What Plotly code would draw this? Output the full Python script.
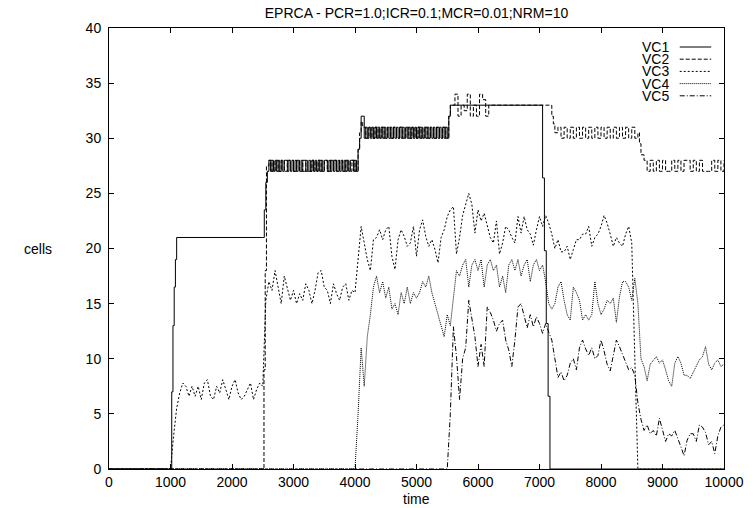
import plotly.graph_objects as go

# ---------------- data ----------------
title_text = "EPRCA - PCR=1.0;ICR=0.1;MCR=0.01;NRM=10"
series_names = ["VC1", "VC2", "VC3", "VC4", "VC5"]
x_ticks = [0, 1000, 2000, 3000, 4000, 5000, 6000, 7000, 8000, 9000, 10000]
x_tick_labels = ["0", "1000", "2000", "3000", "4000", "5000", "6000", "7000",
                 "8000", "9000", "10000"]
y_ticks = [0, 5, 10, 15, 20, 25, 30, 35, 40]
y_tick_labels = ["0", "5", "10", "15", "20", "25", "30", "35", "40"]

vc1_time = ([0, 1000, 1020, 1040, 1060, 1080, 1100, 2500, 2525, 2550]
            + list(range(2575, 4026, 25))
            + [4050, 4075, 4100] + list(range(4150, 5501, 25))
            + [5525, 5550, 7020, 7050, 7080, 7110, 7140, 7170, 10000])
vc1_cells = ([0, 0, 7, 13, 16.5, 19, 21, 21, 23.5, 26]
             + [27, 28, 27, 28, 27, 28, 27, 28, 27, 28,
                27, 28, 28, 27, 28, 27, 28, 27, 28, 27,
                28, 27, 28, 27, 27, 28, 27, 28, 27, 28,
                27, 28, 27, 28, 27, 28, 27, 28, 28, 27,
                28, 27, 28, 27, 28, 27, 28, 27, 28, 27,
                28, 27, 28, 27, 28, 28, 27, 28, 27]
             + [29, 30, 32]
             + [30, 31, 30, 31, 30, 31, 30, 31, 30, 31,
                30, 31, 30, 31, 30, 31, 30, 31, 30, 31,
                30, 31, 30, 31, 30, 31, 30, 31, 30, 31,
                30, 31, 30, 31, 30, 31, 30, 31, 30, 31,
                30, 31, 30, 31, 30, 31, 30, 31, 30, 31,
                30, 31, 30, 31, 30]
             + [32, 33, 33, 26.4, 19.8, 13.2, 6.6, 0, 0])

vc2_time = ([0, 2500, 2520, 2540, 2560] + list(range(2600, 4001, 50))
            + [4050, 4075, 4100] + list(range(4125, 5476, 50))
            + [5525, 5550] + list(range(5575, 6126, 50))
            + [6175, 7170, 7200, 7225, 7250] + list(range(7300, 8551, 50))
            + [8600, 8625, 8650] + list(range(8700, 10001, 50)))
vc2_cells = ([0, 0, 9, 18, 27.5]
             + [28, 27, 28, 27, 28, 27, 28, 28, 27, 28,
                27, 28, 27, 27, 28, 27, 28, 27, 28, 27,
                28, 28, 27, 28, 27, 28, 27, 28, 27]
             + [29, 30.5, 31.5]
             + [31, 30, 31, 30, 31, 30, 31, 30, 31, 30,
                31, 30, 31, 30, 31, 30, 31, 30, 31, 30,
                31, 30, 31, 30, 31, 30, 31, 30]
             + [32, 33]
             + [33, 34, 32, 33, 32.5, 34, 32, 33, 32, 34, 33.5, 32]
             + [33, 33, 32, 31.3, 30.5]
             + [31, 30, 31, 30, 31, 30, 31, 30, 31, 30,
                31, 30, 31, 30, 31, 30, 31, 30, 31, 30,
                31, 30, 31, 30, 31, 30]
             + [30.5, 29.5, 28.5]
             + [28, 27, 28, 27, 28, 27, 28, 27, 27, 28,
                27, 28, 27, 28, 28, 27, 28, 27, 28, 27,
                27, 27, 28, 27, 28, 27, 28])

vc3_time = [0] + list(range(1000, 8551, 50)) + [8600, 10000]
vc3_cells = ([0]
             + [0, 3, 5.5, 6.9, 7.8, 7.5, 6.6, 7.5, 6.6, 7.5,
                6.3, 7.8, 8.1, 6.6, 6.3, 7.5, 6.9, 8.1, 7.2, 6.3,
                7.5, 8.1, 6.9, 6.3, 6.6, 7.2, 7.8, 6.3, 7.2, 7.8,
                7.5, 15.3, 17, 16.2, 18, 16.5, 15, 17.5, 16.5, 15.3,
                16.2, 15, 15.9, 15.3, 16.8, 16.2, 15, 16.2, 17.8, 18,
                16.5, 16.2, 15, 16.8, 15.9, 15.3, 16.5, 16.8, 15.3, 16.2,
                16, 19.3, 22, 20.5, 19, 18, 20.8, 21, 21.7, 20.8,
                21.7, 22, 19.3, 18.1, 20.8, 21.7, 21.1, 20.2, 20.5, 22,
                19.3, 21.7, 22.6, 21.1, 20.2, 20.8, 19.9, 18.7, 21, 21.7,
                22.9, 23.5, 23.8, 19.5, 21, 23, 24, 25, 24, 21.4,
                23.5, 22.5, 23.2, 22, 21, 20.5, 22.5, 19.5, 20.5, 22,
                21.7, 21, 20.5, 22.9, 21.4, 22.9, 21.7, 21.3, 20.3, 21.7,
                22.9, 22, 23, 22.3, 21.3, 20, 20.8, 19.7, 19.7, 20.2,
                19, 19.9, 20.8, 20.8, 21.3, 21.3, 22, 20.2, 21, 21.3,
                22, 23, 22.3, 21.3, 20.2, 21, 20.5, 20.2, 21.3, 22,
                20.5, 10]
             + [0, 0])

vc4_time = [0] + list(range(4000, 10001, 50))
vc4_cells = ([0]
             + [0, 5, 11, 7.5, 12, 14, 16.5, 17.5, 16, 17,
                15.5, 16.5, 14.5, 15, 14, 16, 15, 16.5, 15, 16,
                15.5, 16, 17, 16.5, 17.5, 16, 15, 14, 13, 12,
                14, 13, 15.5, 18, 17.5, 18.5, 19, 16.5, 18.5, 19,
                18, 19, 16.5, 18.5, 19, 18, 18.5, 16.5, 17.5, 16,
                18.5, 19, 18, 19, 17.5, 18.5, 19, 17, 18.5, 19,
                18, 18.5, 17, 15, 14.5, 15, 16.5, 17, 15.3, 14,
                13.5, 16.5, 16, 15.3, 13.5, 14, 13.5, 14, 17, 15,
                14, 14.5, 15.3, 15, 15.5, 13.3, 15.6, 17, 17, 16.5,
                15.3, 17.3, 15, 10, 9.3, 8, 9.5, 9.9, 10.2, 9.6,
                9.9, 9, 8, 7.5, 9.6, 10.2, 9.6, 8.5, 8.5, 8.2,
                8.8, 9.3, 9.9, 10.2, 11.1, 9.5, 9, 9.6, 9.9, 9.3,
                9.5])

vc5_time = [0] + list(range(5500, 10001, 50))
vc5_cells = ([0]
             + [0, 5, 12.9, 10.2, 6.3, 10, 11, 15.3, 13.5, 12,
                9.3, 11.3, 9.3, 14.7, 14.2, 13.5, 12.5, 13.2, 13.5, 11.7,
                10.8, 9.3, 11.7, 14.7, 15, 13.8, 12.8, 14, 12.9, 13.8,
                13.2, 12.3, 13.2, 12.4, 11.7, 10, 8.3, 8.8, 8, 8.5,
                9.6, 10, 9, 11, 11.7, 10.9, 10.3, 11, 10, 10.3,
                11.7, 10.7, 9.5, 8.9, 10.3, 11.7, 11.1, 10.3, 9.7, 9,
                9.2, 8.5, 6, 4.5, 3.5, 4, 3.2, 3.5, 3, 4.6,
                3.5, 2.5, 3.2, 3, 3.5, 2.8, 2, 1.2, 2.6, 3.2,
                3.2, 2.5, 4, 3.8, 3.3, 2.2, 2.5, 1.4, 3, 3.8,
                4])

# ---------------- styling ----------------
FONT = "Liberation Sans, Arial, Helvetica, sans-serif"
dashes = ["solid", "4px,2px", "2px,2px", "1px,1px", "5px,2px,1px,2px"]
shapes = ["hv", "hv", "linear", "linear", "linear"]
times = [vc1_time, vc2_time, vc3_time, vc4_time, vc5_time]
cells = [vc1_cells, vc2_cells, vc3_cells, vc4_cells, vc5_cells]

fig = go.Figure()
for name, t, c, d, s in zip(series_names, times, cells, dashes, shapes):
    fig.add_trace(go.Scatter(x=t, y=c, mode="lines", name=name,
                             line=dict(color="black", width=1, dash=d, shape=s),
                             showlegend=False, hoverinfo="skip"))

W, H = 756, 508
PX0, PX1, PY0, PY1 = 109, 734, 28, 469          # plot box in window pixels
L, T, R, B = PX0, PY0, W - PX1, H - PY1
pw, ph = PX1 - PX0, PY1 - PY0


def xp(px):
    return (px - PX0) / pw


def yp(py):
    return (PY1 - py) / ph


# gnuplot-style key: label (right aligned) followed by line sample
for i, (name, d) in enumerate(zip(series_names, dashes)):
    ypx = 47 + 12.2 * i
    fig.add_annotation(x=xp(680), y=yp(ypx), xref="paper", yref="paper",
                       text=name, showarrow=False, xanchor="right", yanchor="middle",
                       height=12, valign="middle",
                       font=dict(family=FONT, size=14, color="black"))
    fig.add_shape(type="line", xref="paper", yref="paper",
                  x0=xp(689), x1=xp(721), y0=yp(ypx), y1=yp(ypx),
                  line=dict(color="black", width=1, dash=d))

fig.add_annotation(x=0.5, y=yp(499), xref="paper", yref="paper",
                   text="time", showarrow=False, xanchor="center", yanchor="middle",
                   font=dict(family=FONT, size=14, color="black"))
fig.add_annotation(x=xp(37), y=0.5, xref="paper", yref="paper",
                   text="cells", showarrow=False, xanchor="center", yanchor="middle",
                   font=dict(family=FONT, size=14, color="black"))

axis_common = dict(showgrid=False, zeroline=False, showline=True, linecolor="black",
                   linewidth=1, mirror="ticks", ticks="inside", ticklen=5,
                   tickcolor="black", tickwidth=1,
                   tickfont=dict(family=FONT, size=14, color="black"))

fig.update_layout(
    width=W, height=H,
    margin=dict(l=L, r=R, t=T, b=B, pad=0),
    paper_bgcolor="white", plot_bgcolor="white",
    title=dict(text=title_text, x=0.5, xref="paper", xanchor="center",
               y=1 - 13 / H, yref="container", yanchor="middle",
               font=dict(family=FONT, size=14, color="black")),
    xaxis=dict(range=[0, 10000], tickvals=x_ticks, ticktext=x_tick_labels, **axis_common),
    yaxis=dict(range=[0, 40], tickvals=y_ticks, ticktext=y_tick_labels,
               ticklabelstandoff=4, **axis_common),
    showlegend=False,
)

# remove the default 8px page margin so the figure fills the window exactly
fig.write_html("out.html",
               config={"displayModeBar": False},
               post_script="document.body.style.margin='0px';")
